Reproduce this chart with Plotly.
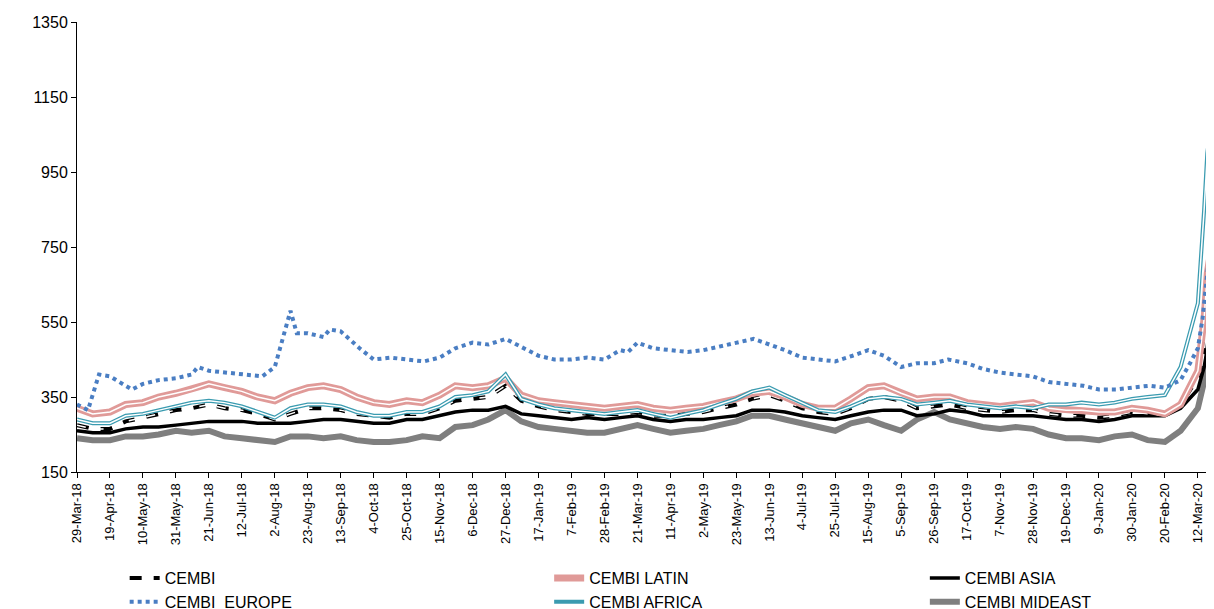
import plotly.graph_objects as go
import pandas as pd

tick_dates = list(pd.date_range("2018-03-29", periods=35, freq="21D"))
grid = []
for i, d in enumerate(tick_dates):
    grid.append(d)
    if i < 34:
        grid.append(d + pd.Timedelta(days=10))
grid += [pd.Timestamp("2020-03-16"), pd.Timestamp("2020-03-18"), pd.Timestamp("2020-03-21")]

cembi = [275,265,265,285,295,305,315,320,330,320,315,305,290,305,320,320,315,305,300,295,305,305,320,340,345,350,380,340,325,315,310,305,305,305,310,300,300,305,310,320,330,345,355,340,320,310,305,320,345,350,340,320,325,330,320,315,310,315,315,305,300,300,295,300,310,305,300,330,400,470,540,570]
latin = [320,305,310,330,335,350,360,370,385,375,365,350,340,360,375,380,370,350,335,330,340,335,355,380,375,380,400,355,340,335,330,325,320,325,330,320,315,320,325,335,345,360,365,350,330,320,320,345,375,380,360,345,350,350,335,330,325,330,335,320,315,315,310,310,320,315,305,330,420,560,680,760]
asia = [260,255,255,265,270,270,275,280,285,285,285,280,280,280,285,290,290,285,280,280,290,290,300,310,315,315,325,305,300,295,290,295,290,295,300,290,285,290,290,295,300,315,315,310,300,295,290,300,310,315,315,300,305,315,310,300,300,300,300,295,290,290,285,290,300,300,300,320,370,430,480,510]
africa = [290,280,280,300,305,315,325,335,340,335,325,310,295,320,330,330,325,310,300,300,310,310,325,350,355,365,410,345,330,320,315,310,305,310,315,305,295,305,315,330,345,365,375,355,335,315,310,325,345,350,345,330,335,340,330,325,320,325,320,330,330,335,330,335,345,350,355,430,600,850,1000,1100]
mideast = [240,235,235,245,245,250,260,255,260,245,240,235,230,245,245,240,245,235,230,230,235,245,240,270,275,290,315,285,270,265,260,255,255,265,275,265,255,260,265,275,285,300,300,290,280,270,260,280,290,275,260,290,310,290,280,270,265,270,265,250,240,240,235,245,250,235,230,260,320,390,440,480]

europe_dates = ["2018-03-29","2018-04-05","2018-04-12","2018-04-19","2018-05-03","2018-05-10","2018-05-20","2018-05-31","2018-06-10","2018-06-14","2018-06-21","2018-07-12","2018-07-25","2018-08-02","2018-08-09","2018-08-12","2018-08-16","2018-08-23","2018-09-02","2018-09-06","2018-09-13","2018-09-25","2018-10-04","2018-10-15","2018-10-25","2018-11-05","2018-11-15","2018-11-25","2018-12-06","2018-12-16","2018-12-27","2019-01-07","2019-01-17","2019-01-27","2019-02-07","2019-02-17","2019-02-28","2019-03-10","2019-03-15","2019-03-21","2019-03-31","2019-04-11","2019-04-22","2019-05-02","2019-05-12","2019-05-23","2019-06-03","2019-06-13","2019-06-23","2019-07-04","2019-07-15","2019-07-25","2019-08-05","2019-08-15","2019-08-25","2019-09-05","2019-09-15","2019-09-26","2019-10-05","2019-10-17","2019-10-27","2019-11-07","2019-11-17","2019-11-28","2019-12-08","2019-12-19","2019-12-30","2020-01-09","2020-01-20","2020-01-30","2020-02-10","2020-02-20","2020-03-01","2020-03-07","2020-03-12","2020-03-15","2020-03-17","2020-03-19","2020-03-21"]
europe = [330,315,410,405,370,385,395,400,410,430,420,410,405,430,540,580,520,520,510,530,525,480,450,455,450,445,455,480,495,490,505,480,460,450,450,455,450,475,470,495,480,475,470,475,485,495,505,490,475,455,450,445,460,475,460,430,440,440,450,440,425,415,410,405,390,385,380,370,370,375,380,375,395,440,480,560,650,720,760]

fig = go.Figure()

def double(name, y, color, w_outer, w_inner, rank, lg, dash="solid"):
    fig.add_trace(go.Scatter(x=grid, y=y, name=name, mode="lines", legendrank=rank, legend=lg,
                             line=dict(color=color, width=w_outer, dash=dash)))
    fig.add_trace(go.Scatter(x=grid, y=y, mode="lines", showlegend=False, hoverinfo="skip",
                             line=dict(color="white", width=w_inner, dash=dash)))

fig.add_trace(go.Scatter(x=grid, y=mideast, name="CEMBI MIDEAST", mode="lines", legendrank=2,
                         legend="legend3", line=dict(color="#7f7f7f", width=6)))
fig.add_trace(go.Scatter(x=grid, y=asia, name="CEMBI ASIA", mode="lines", legendrank=1,
                         legend="legend3", line=dict(color="black", width=3.5)))
double("CEMBI", cembi, "black", 4, 1.5, 1, "legend", dash="dash")
double("CEMBI LATIN", latin, "#e09a98", 7, 1.5, 1, "legend2")
double("CEMBI AFRICA", africa, "#3a9bb0", 4, 1.5, 2, "legend2")
fig.add_trace(go.Scatter(x=pd.to_datetime(europe_dates), y=europe, name="CEMBI  EUROPE", mode="lines",
                         legendrank=2, legend="legend", line=dict(color="#4a7ec3", width=4, dash="dot")))

def leg(x):
    return dict(orientation="v", x=x, y=-0.198, xanchor="left", yanchor="top",
                font=dict(size=16), traceorder="normal", itemwidth=30, tracegroupgap=0,
                bgcolor="rgba(0,0,0,0)")

fig.update_layout(
    width=1214, height=609, paper_bgcolor="white", plot_bgcolor="white",
    margin=dict(l=69, r=10, t=14, b=145, autoexpand=False),
    font=dict(family="Arial, Liberation Sans", size=15, color="black"),
    legend=leg(0.042), legend2=leg(0.416), legend3=leg(0.747),
)
fig.update_xaxes(range=[pd.Timestamp("2018-03-29"), pd.Timestamp("2020-03-21")],
                 tickvals=tick_dates, ticktext=[d.strftime("%-d-%b-%y") for d in tick_dates],
                 tickangle=-90, tickfont=dict(size=13), showgrid=False, showline=True,
                 linecolor="black", ticks="outside", ticklen=5, tickcolor="black", automargin=False)
fig.update_yaxes(range=[150, 1350], tickvals=list(range(150, 1351, 200)), showgrid=False,
                 showline=True, linecolor="black", ticks="outside", ticklen=5, tickcolor="black",
                 tickfont=dict(size=16), zeroline=False, automargin=False)
fig.write_html("out.html")
